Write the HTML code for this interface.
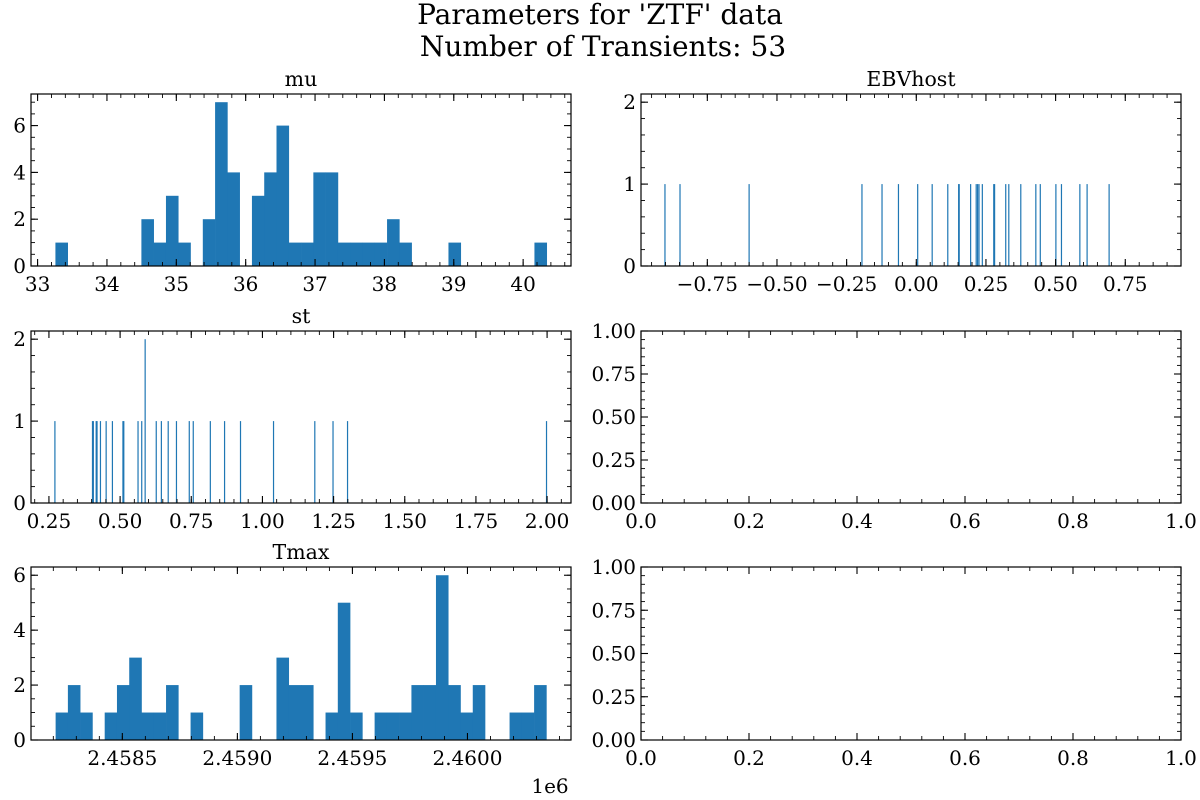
<!DOCTYPE html>
<html><head><meta charset="utf-8">
<style>
html,body{margin:0;padding:0;background:#fff;}
svg{display:block;font-family:"DejaVu Serif","Liberation Serif",serif;}
</style></head>
<body>
<svg id="fig" width="1200" height="800" viewBox="0 0 1200 800">
<text x="600" y="24" text-anchor="middle" font-size="28">Parameters for 'ZTF' data</text>
<text x="603" y="56" text-anchor="middle" font-size="28">Number of Transients: 53</text>
</svg>
<script>
// ---- data ----
const muCounts = [1,0,0,0,0,0,0,2,1,3,1,0,2,7,4,0,3,4,6,1,1,4,4,1,1,1,1,2,1,0,0,0,1,0,0,0,0,0,0,1];
const muRange = [33.257, 40.34];
const tmaxCounts = [1,2,1,0,1,2,3,1,1,2,0,1,0,0,0,2,0,0,3,2,2,0,1,5,1,0,1,1,1,2,2,6,2,1,2,0,0,1,1,2];
const tmaxRange = [2458210, 2460343];
const ebvValues = [-0.902,-0.848,-0.600,-0.195,-0.123,-0.064,0.005,0.057,0.113,0.152,0.154,0.195,0.215,0.220,0.225,0.237,0.278,0.281,0.321,0.332,0.375,0.429,0.445,0.501,0.521,0.587,0.613,0.692];
const ebvCounts = [1,1,1,1,1,1,1,1,1,1,1,1,1,1,1,1,1,1,1,1,1,1,1,1,1,1,1,1];
const stValues = [0.271,0.403,0.406,0.416,0.419,0.431,0.451,0.473,0.510,0.513,0.563,0.576,0.588,0.627,0.645,0.669,0.698,0.743,0.757,0.817,0.867,0.923,1.039,1.184,1.248,1.299,1.998];
const stCounts = [1,1,1,1,1,1,1,1,1,1,1,1,2,1,1,1,1,1,1,1,1,1,1,1,1,1,1];
const muXTicks = [33,34,35,36,37,38,39,40];
const muYTicks = [0,2,4,6];
const ebvXTicks = [-0.75,-0.5,-0.25,0,0.25,0.5,0.75];
const stXTicks = [0.25,0.5,0.75,1.0,1.25,1.5,1.75,2.0];
const smallYTicks = [0,1,2];
const tmaxXTicks = [2458500,2459000,2459500,2460000];
const tmaxXLabels = ['2.4585','2.4590','2.4595','2.4600'];
const emptyXTicks = [0,0.2,0.4,0.6,0.8,1.0];
const emptyYTicks = [0,0.25,0.5,0.75,1.0];

const NS='http://www.w3.org/2000/svg';
const fig=document.getElementById('fig');
function mk(tag,attrs,parent){const e=document.createElementNS(NS,tag);for(const k in attrs)e.setAttribute(k,attrs[k]);(parent||fig).appendChild(e);return e;}
function fmt(v,d){let s=v.toFixed(d);if(v<0)s='\u2212'+s.slice(1);return s;}

function panel(o){
  const g=mk('g',{});
  
  
  const X=v=>o.x0+(v-o.xmin)/(o.xmax-o.xmin)*(o.x1-o.x0);
  const Y=v=>o.y1-(v-o.ymin)/(o.ymax-o.ymin)*(o.y1-o.y0);
  if(o.draw) o.draw(g,X,Y);
  const fr=mk('rect',{x:o.x0,y:o.y0,width:o.x1-o.x0,height:o.y1-o.y0,fill:'none',stroke:'#000','stroke-width':1.2},g);
  
  
  for(let v=Math.ceil(o.xmin/o.xminor)*o.xminor; v<=o.xmax+1e-9; v+=o.xminor){
    const px=X(v);
    mk('line',{x1:px,x2:px,y1:o.y1,y2:o.y1-4,stroke:'#000','stroke-width':0.9},g);
    mk('line',{x1:px,x2:px,y1:o.y0,y2:o.y0+4,stroke:'#000','stroke-width':0.9},g);
  }
  for(let v=Math.ceil(o.ymin/o.yminor)*o.yminor; v<=o.ymax+1e-9; v+=o.yminor){
    const py=Y(v);
    mk('line',{x1:o.x0,x2:o.x0+4,y1:py,y2:py,stroke:'#000','stroke-width':0.9},g);
    mk('line',{x1:o.x1,x2:o.x1-4,y1:py,y2:py,stroke:'#000','stroke-width':0.9},g);
  }
  o.xticks.forEach((v,i)=>{
    const px=X(v);
    mk('line',{x1:px,x2:px,y1:o.y1,y2:o.y1-7,stroke:'#000','stroke-width':1.1},g);
    mk('line',{x1:px,x2:px,y1:o.y0,y2:o.y0+7,stroke:'#000','stroke-width':1.1},g);
    const t=mk('text',{x:px,y:o.y1+25,'text-anchor':'middle','font-size':20},g);
    t.textContent=o.xlabels?o.xlabels[i]:fmt(v,o.xdec);
    
    
  });
  o.yticks.forEach(v=>{
    const py=Y(v);
    mk('line',{x1:o.x0,x2:o.x0+7,y1:py,y2:py,stroke:'#000','stroke-width':1.1},g);
    mk('line',{x1:o.x1,x2:o.x1-7,y1:py,y2:py,stroke:'#000','stroke-width':1.1},g);
    const t=mk('text',{x:o.x0-5,y:py+7,'text-anchor':'end','font-size':20},g);
    t.textContent=fmt(v,o.ydec);
    
    
  });
  if(o.title){
    const t=mk('text',{x:(o.x0+o.x1)/2,y:o.y0-8,'text-anchor':'middle','font-size':20.5},g);
    t.textContent=o.title;
    
    
  }
  return {g,X,Y};
}
function histDraw(counts,range){
  return (g,X,Y)=>{
    const w=(range[1]-range[0])/counts.length;
    counts.forEach((c,i)=>{
      if(!c)return;
      const a=X(range[0]+i*w), b=X(range[0]+(i+1)*w);
      const r=mk('rect',{x:a,y:Y(c),width:b-a+0.3,height:Y(0)-Y(c),fill:'#1f77b4'},g);
      
      
    });
  };
}
function lineDraw(vals,counts){
  return (g,X,Y)=>{
    vals.forEach((v,i)=>{
      const r=mk('rect',{x:X(v)-0.6,y:Y(counts[i]),width:1.2,height:Y(0)-Y(counts[i]),fill:'#1f77b4'},g);
      
      
    });
  };
}
const L=31,R=571,L2=641,R2=1181;
panel({name:'mu-panel',title:'mu',x0:L,x1:R,y0:94,y1:266,xmin:32.905,xmax:40.69,ymin:0,ymax:7.35,
  xticks:muXTicks,xdec:0,xminor:0.2,yticks:muYTicks,ydec:0,yminor:0.5,draw:histDraw(muCounts,muRange)});
panel({name:'ebvhost-panel',title:'EBVhost',x0:L2,x1:R2,y0:94,y1:266,xmin:-0.988,xmax:0.950,ymin:0,ymax:2.1,
  xticks:ebvXTicks,xdec:2,xminor:0.05,yticks:smallYTicks,ydec:0,yminor:0.2,draw:lineDraw(ebvValues,ebvCounts)});
panel({name:'st-panel',title:'st',x0:L,x1:R,y0:331,y1:503,xmin:0.187,xmax:2.084,ymin:0,ymax:2.1,
  xticks:stXTicks,xdec:2,xminor:0.05,yticks:smallYTicks,ydec:0,yminor:0.2,draw:lineDraw(stValues,stCounts)});
panel({name:'empty-panel-middle',x0:L2,x1:R2,y0:331,y1:503,xmin:0,xmax:1,ymin:0,ymax:1,
  xticks:emptyXTicks,xdec:1,xminor:0.04,yticks:emptyYTicks,ydec:2,yminor:0.05});
panel({name:'tmax-panel',title:'Tmax',x0:L,x1:R,y0:567,y1:740,xmin:2458103,xmax:2460450,ymin:0,ymax:6.3,
  xticks:tmaxXTicks,xlabels:tmaxXLabels,xminor:100,yticks:muYTicks,ydec:0,yminor:0.5,draw:histDraw(tmaxCounts,tmaxRange)});
panel({name:'empty-panel-bottom',x0:L2,x1:R2,y0:567,y1:740,xmin:0,xmax:1,ymin:0,ymax:1,
  xticks:emptyXTicks,xdec:1,xminor:0.04,yticks:emptyYTicks,ydec:2,yminor:0.05});
const off=mk('text',{x:550,y:793,'text-anchor':'middle','font-size':20});
off.textContent='1e6';


</script>
</body></html>
